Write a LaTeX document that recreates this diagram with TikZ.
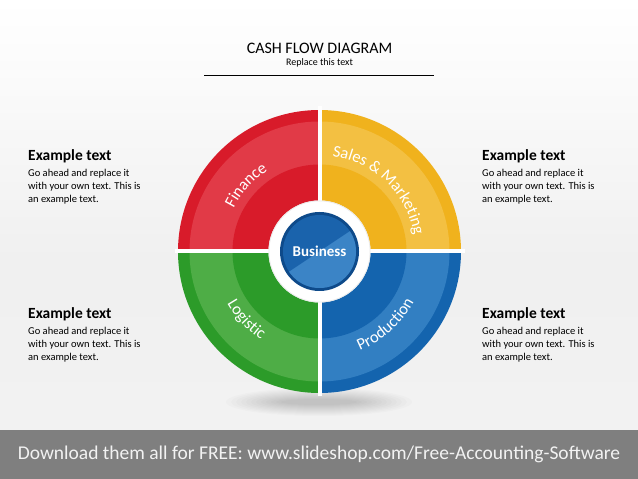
\documentclass[tikz,border=0pt]{standalone}
\usepackage{fontspec}
\setmainfont{Carlito}
\usetikzlibrary{decorations.text}
\definecolor{redD}{HTML}{D81B2A}
\definecolor{redL}{HTML}{E13A47}
\definecolor{yelD}{HTML}{F0B21D}
\definecolor{yelL}{HTML}{F3C042}
\definecolor{grnD}{HTML}{2C9B29}
\definecolor{grnL}{HTML}{4EAD46}
\definecolor{bluD}{HTML}{1464AE}
\definecolor{bluL}{HTML}{327FC2}
\definecolor{bizBorder}{HTML}{0E4A8A}
\definecolor{bizDark}{HTML}{1A63AC}
\definecolor{bizLight}{HTML}{3B84C6}
\definecolor{footer}{HTML}{7F7F7F}
\newcommand\arcfont{\fontsize{16.5}{16.5}\selectfont}
\tikzset{
  hdr/.style={anchor=base west, inner sep=0, font=\bfseries\fontsize{15.5}{15.5}\selectfont},
  bodyline/.style={anchor=base west, inner sep=0, font=\fontsize{10.5}{10.5}\selectfont},
  arctext/.style={decorate, decoration={text along path, text align=center, text color=white, text={|\arcfont|#1}}}
}
\begin{document}
\begin{tikzpicture}[x=1pt,y=1pt]
\useasboundingbox (0,0) rectangle (638,479);
% background
\shade[top color=white, bottom color=black!6] (0,214) rectangle (638,479);
\shade[top color=black!6, bottom color=black!5] (0,49) rectangle (638,214);
\fill[footer] (0,0) rectangle (638,49);
\node[text=white!95!black, font=\fontsize{19.5}{19.5}\selectfont] (foot) at (319,25) {Download them all for FREE: www.slideshop.com/Free-Accounting-Software};
% title
\node[font=\fontsize{16}{16}\selectfont] (title) at (319.5,430.5) {CASH FLOW DIAGRAM};
\node[anchor=base, inner sep=0, font=\fontsize{10}{10}\selectfont] (sub) at (319.5,413.5) {Replace this text};
\coordinate (l1) at (204,403.5);
\coordinate (l2) at (434,403.5);
\draw[line width=0.8pt] (l1) -- (l2);
% text blocks
\foreach \n/\x/\y in {lt/28/318, rt/482/318, lb/28/160, rb/482/160}{
  \node[hdr] (\n-h) at (\x,\y) {Example text};
  \node[bodyline] (\n-1) at (\x,\y-16) {Go ahead and replace it};
  \node[bodyline] (\n-2) at (\x,\y-29) {with your own text. This is};
  \node[bodyline] (\n-3) at (\x,\y-42) {an example text.};
}
% shadow
\foreach \i in {1,...,12}{
  \fill[black, opacity=0.014] (319,77) ellipse [x radius={98-5*\i}, y radius={15-\i}];
}
% wheel
\begin{scope}[shift={(319.5,227.5)}]
\coordinate (C) at (0,0);
\foreach \a/\d/\l in {90/redD/redL, 0/yelD/yelL, 180/grnD/grnL, 270/bluD/bluL}{
  \fill[\d] (C) -- (\a:141.5) arc[start angle=\a, delta angle=90, radius=141.5] -- cycle;
  \fill[\l] (C) -- (\a:130) arc[start angle=\a, delta angle=90, radius=130] -- cycle;
  \fill[\d] (C) -- (\a:87) arc[start angle=\a, delta angle=90, radius=87] -- cycle;
}
\draw[white, line width=4pt] (-145,0) -- (145,0);
\draw[white, line width=4pt] (0,-145) -- (0,145);
\fill[white] (C) circle[radius=51];
\draw[black!8, line width=0.8pt] (C) circle[radius=50.6];
\fill[bizBorder] (C) circle[radius=39.5];
\fill[bizDark] (C) circle[radius=36.5];
\begin{scope}
  \clip (C) circle[radius=36.5];
  \fill[bizLight] (-60,-40) -- (60,40) -- (60,-60) -- (-60,-60) -- cycle;
\end{scope}
\node[text=white, font=\bfseries\fontsize{15}{15}\selectfont] (biz) at (C) {Business};
% arc labels
\path[arctext={Finance}] (176:96) arc[start angle=176, end angle=100, radius=96];
\path[arctext={Sales {\&} Marketing}] (108:96) arc[start angle=108, end angle=-16, radius=96];
\path[arctext={Logistic}] (183:106) arc[start angle=183, end angle=263, radius=106];
\path[arctext={Production}] (272:107) arc[start angle=272, end angle=352, radius=107];
\end{scope}
\end{tikzpicture}
\end{document}
